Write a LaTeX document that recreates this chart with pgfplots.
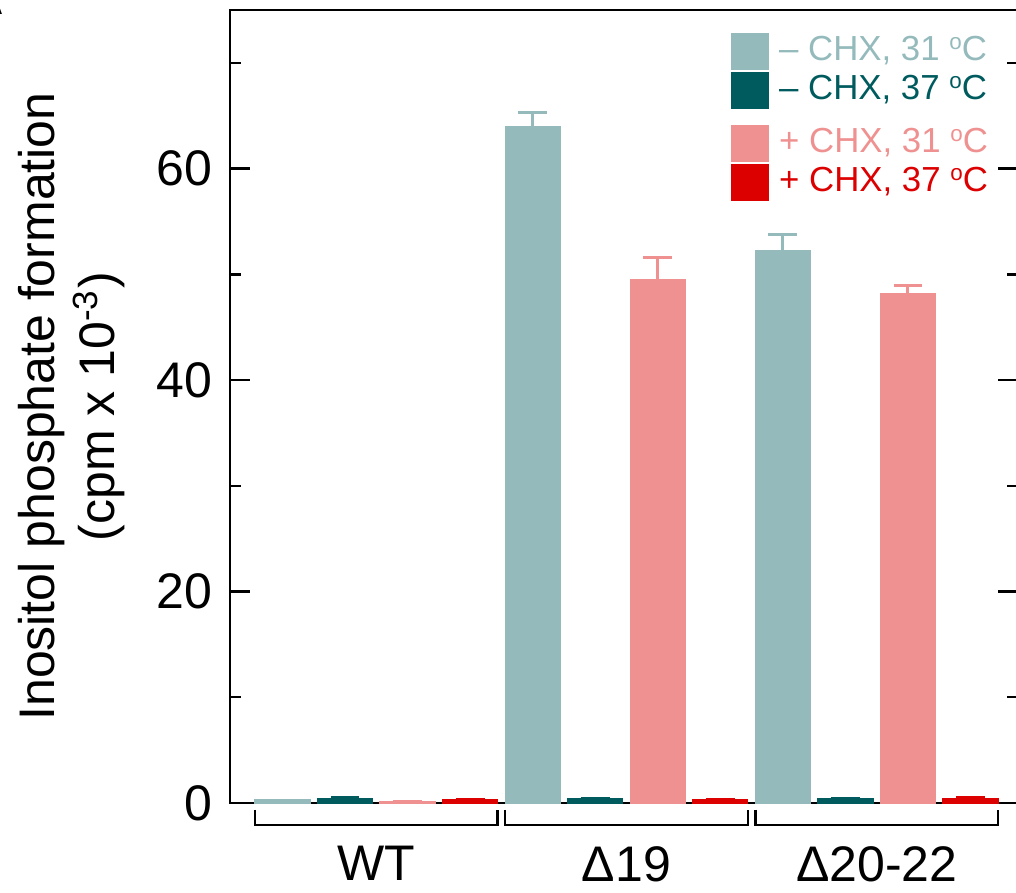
\documentclass[border=0pt]{standalone}
\usepackage{fontspec}
\setmainfont{Liberation Sans}
\usepackage{pgfplots}
\pgfplotsset{compat=1.18}

\definecolor{cold31}{RGB}{148,186,188}
\definecolor{cold37}{RGB}{0,91,94}
\definecolor{chx31}{RGB}{239,145,144}
\definecolor{chx37}{RGB}{220,0,0}

\newcommand{\degC}{\raisebox{0.32em}{\fontsize{5.6}{6}\selectfont o}C}

\pgfplotsset{
  condition/.style={
    fill=#1, draw=#1, line width=0.3pt,
    legend image code/.code={\fill[#1] (0pt,-4.5pt) rectangle (9.25pt,4.5pt);
      \path (11.2pt,0pt);},
    error bars/.cd, y dir=plus, y explicit,
    error bar style={line width=0.75pt, #1},
    error mark options={rotate=90, mark size=3.6pt, line width=0.75pt, #1},
    /pgfplots/.cd,
  },
}

\begin{document}
\begin{tikzpicture}
\useasboundingbox (-57.5pt,-22.25pt) rectangle (196.5pt,200.75pt);
% panel letter
\node[anchor=south east, inner sep=0pt, font=\fontsize{14}{16}\bfseries\selectfont] at (-56.2pt,197pt) {A};
\begin{axis}[
  at={(0,0)}, anchor=south west,
  scale only axis, width=197pt, height=198.25pt,
  xmin=-0.84, xmax=11.76, ymin=0, ymax=75,
  ybar, bar width=0.88, bar shift=0pt, clip=false,
  axis line style={line width=0.6pt},
  xtick={1.5,5.5,9.5},
  xticklabels={WT,Δ19,Δ20-22},
  x tick style={draw=none},
  xticklabel style={font=\fontsize{12.5}{15}\selectfont, yshift=-7.3pt},
  ytick={0,20,40,60},
  minor ytick={10,30,50,70},
  tick align=inside,
  y tick style={line width=0.6pt, black},
  major tick length=5pt, minor tick length=2.75pt,
  yticklabel style={font=\fontsize{12.5}{15}\selectfont, xshift=-1pt},
  /pgf/number format/assume math mode=true,
  ylabel={Inositol phosphate formation\\(cpm x 10\textsuperscript{-3})},
  ylabel style={align=center, font=\fontsize{12.5}{15}\selectfont,
    at={([xshift=-39.5pt]axis description cs:0,0.5)}, anchor=center, rotate=0},
  legend style={draw=none, fill=none, at={(0.6345,0.9723)}, anchor=north west,
    inner sep=0pt, row sep=0.55pt, nodes={inner sep=0.6pt},
    font=\fontsize{8.7}{10.4}\selectfont},
  legend cell align=left,
]
% - CHX, 31 C
\addplot[condition=cold31] coordinates {
  (0,0.28) +- (0,0)
  (4,64.0) +- (0,1.35)
  (8,52.2) +- (0,1.6)
};
\addlegendentry{\textcolor{cold31}{– CHX, 31 \degC}}
% - CHX, 37 C
\addplot[condition=cold37] coordinates {
  (1,0.45) +- (0,0.1)
  (5,0.42) +- (0,0)
  (9,0.42) +- (0,0)
};
\addlegendentry{\textcolor{cold37}{– CHX, 37 \degC}}
% small gap between the -CHX and +CHX pairs of the legend
\addlegendimage{empty legend}
\addlegendentry{\mbox{}}
% + CHX, 31 C
\addplot[condition=chx31] coordinates {
  (2,0.17) +- (0,0)
  (6,49.5) +- (0,2.1)
  (10,48.2) +- (0,0.75)
};
\addlegendentry{\textcolor{chx31}{+ CHX, 31 \degC}}
% + CHX, 37 C
\addplot[condition=chx37] coordinates {
  (3,0.35) +- (0,0)
  (7,0.32) +- (0,0)
  (11,0.45) +- (0,0.1)
};
\addlegendentry{\textcolor{chx37}{+ CHX, 37 \degC}}
% group brackets under the axis
\draw[line width=0.6pt] (axis cs:-0.44,-0.66) -- (axis cs:-0.44,-2.08) -- (axis cs:3.44,-2.08) -- (axis cs:3.44,-0.66);
\draw[line width=0.6pt] (axis cs:3.56,-0.66) -- (axis cs:3.56,-2.08) -- (axis cs:7.44,-2.08) -- (axis cs:7.44,-0.66);
\draw[line width=0.6pt] (axis cs:7.56,-0.66) -- (axis cs:7.56,-2.08) -- (axis cs:11.44,-2.08) -- (axis cs:11.44,-0.66);
\end{axis}
\end{tikzpicture}
\end{document}
